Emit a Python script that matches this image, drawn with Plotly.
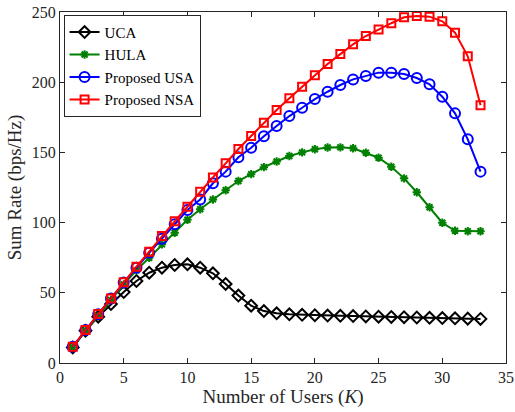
import plotly.graph_objects as go

users = list(range(1, 34))
uca = [11, 23, 33, 42, 50.5, 58.4, 64.3, 67.9, 69.8, 70.3, 67.9, 63.9, 56.3, 48, 40.8,
       37, 35.4, 34.7, 34.3, 34, 33.8, 33.6, 33.4, 33.2, 33, 32.8, 32.6, 32.4, 32.2, 32, 31.8, 31.6, 31.4]
hula = [11, 23, 33.5, 45, 56, 66, 75, 84.5, 92.8, 102, 109.5, 116.5, 123, 129.6, 134.5,
        139.5, 143.5, 147.4, 150, 152.2, 153.5, 153.6, 153, 149.8, 146.2, 139.8, 131.5, 121.6, 110.9, 99.9, 94.2, 93.8, 93.8]
usa = [11.5, 23.5, 34.8, 46, 57.3, 67.8, 78.5, 88.5, 98.8, 109, 116.5, 128, 136.3, 146.5, 153.3,
       161.5, 168.8, 175.9, 181.8, 188, 193.2, 198, 202, 204.4, 206.8, 206.8, 205.8, 203, 198.5, 189.7, 177.8, 159.3, 136.3]
nsa = [11.6, 23.5, 34.9, 46, 57.5, 68.6, 79.3, 90.5, 100.9, 111.3, 122, 132.2, 142.2, 152.4, 161.7,
       171.2, 180.2, 188.5, 196.8, 205, 213, 220, 227, 232.9, 237.6, 242, 246.2, 247.2, 246.7, 243.4, 235.3, 218.4, 183.5]

x_ticks = [0, 5, 10, 15, 20, 25, 30, 35]
y_ticks = [0, 50, 100, 150, 200, 250]

series = [
    ("UCA", uca, "black", "diamond-open", 9),
    ("HULA", hula, "#008000", "asterisk-open", 7),
    ("Proposed USA", usa, "#0000FF", "circle-open", 10),
    ("Proposed NSA", nsa, "#FF0000", "square-open", 8),
]

fig = go.Figure()
for name, vals, col, sym, sz in series:
    fig.add_trace(go.Scatter(
        x=users, y=vals, name=name, mode="lines+markers",
        line=dict(color=col, width=2),
        marker=dict(symbol=sym, size=sz, color=col, line=dict(color=col, width=2)),
    ))

font = "Times New Roman, Liberation Serif, DejaVu Serif, serif"
axis_common = dict(
    showline=True, linecolor="#262626", linewidth=1, mirror="ticks",
    ticks="inside", ticklen=5, tickcolor="#262626", showgrid=False, zeroline=False,
    tickfont=dict(family=font, size=16, color="#262626"), automargin=False,
    ticklabeloverflow="allow",
)
fig.update_layout(
    width=515, height=412,
    margin=dict(l=60, r=9, t=12, b=49),
    paper_bgcolor="white", plot_bgcolor="white",
    font=dict(family=font, color="#262626"),
    xaxis=dict(range=[0, 35], tickvals=x_ticks,
               title=dict(text="Number of Users (<i>K</i>)", font=dict(family=font, size=19), standoff=2),
               **axis_common),
    yaxis=dict(range=[0, 250], tickvals=y_ticks,
               title=dict(text="Sum Rate (bps/Hz)", font=dict(family=font, size=19), standoff=5),
               **axis_common),
    legend=dict(x=0.008, y=0.992, xanchor="left", yanchor="top",
                bgcolor="white", bordercolor="#262626", borderwidth=1,
                font=dict(family=font, size=15, color="black"),
                tracegroupgap=0, itemwidth=30),
    showlegend=True,
)

fig.write_html("out.html", config={"displayModeBar": False},
               post_script="document.body.style.margin='0';")
